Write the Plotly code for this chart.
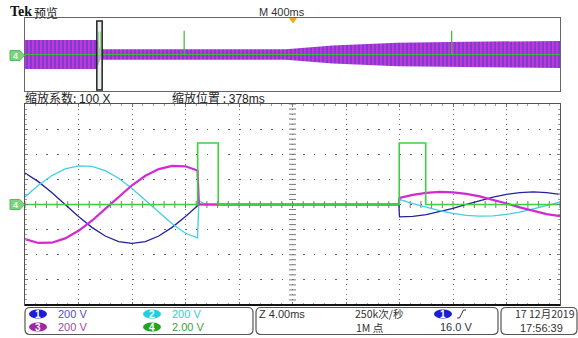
import plotly.graph_objects as go

W, H = 578, 338


def px(x):
    return x / W


def py(y):
    return 1 - y / H


# ---------------- zoomed window: 4 ms/div, CH1-3 200 V/div, CH4 2 V/div ----------------
t_ms = [0, 1, 2, 3, 4, 5, 6, 7, 8, 9, 10, 11, 12, 12.9, 13.0, 13.5, 27.95,
        28, 29, 30, 31, 32, 33, 34, 35, 36, 37, 38, 39, 40]
ch1_v = [251, 182, 96, 0, -96, -182, -251, -295, -310, -295, -251, -182, -96, -10, 0, 0, 0,
         -98, -95, -81, -58, -30, 1, 32, 59, 81, 95, 100, 95, 80]
ch2_v = [60, 154, 229, 283, 308, 304, 269, 209, 128, 34, -63, -154, -229, -265, 30, 0, 0,
         40, 7, -22, -49, -71, -86, -93, -90, -79, -60, -35, -7, 18]
ch3_v = [-275, -306, -304, -270, -209, -129, -35, 62, 153, 229, 282, 308, 304, 270, 0, 0, 0,
         52, 76, 92, 100, 97, 85, 65, 38, 8, -23, -52, -76, -92]
ch4_t_ms = [0, 12.91, 12.91, 14.45, 14.45, 27.98, 27.98, 29.96, 29.96, 40]
ch4_v = [0, 0, 4.9, 4.9, 0, 0, 4.9, 4.9, 0, 0]

# ---------------- full record preview: 400 ms/div ----------------
ov_t_s = [0, 0.54, 0.56, 1.95, 2.30, 2.65, 2.78, 3.30, 4.00]
ov_amp_v = [320, 320, 115, 115, 195, 240, 260, 280, 297]
ov4_t_s = [0, 0.550, 0.550, 0.550, 0.565, 0.565, 0.565, 1.19, 1.19, 1.19, 3.19, 3.19, 3.19, 4.0]
ov4_v = [0, 0, 5.0, 0, 0, 5.0, 0, 0, 5.2, 0, 0, 5.2, 0, 0]
zoom_center_s = 0.557
zoom_factor = 100
record_s = 4.0

C1, C2, C3, C4 = "#22229e", "#3fd0e2", "#d22ad2", "#3fd03f"

fig = go.Figure()

# preview band (min/max envelope of CH1-3)
env_x = ov_t_s + ov_t_s[::-1]
env_y = ov_amp_v + [-a for a in ov_amp_v[::-1]]
fig.add_trace(go.Scatter(
    x=env_x, y=env_y, xaxis="x2", yaxis="y2", mode="lines", fill="toself",
    line=dict(width=0, color=C3), fillcolor="#c636d6",
    fillpattern=dict(shape="|", fgcolor="#3a3ae0", bgcolor="#c83ad0", size=4, solidity=0.55),
    hoverinfo="skip"))
fig.add_trace(go.Scatter(
    x=ov4_t_s, y=ov4_v, xaxis="x2", yaxis="y4", mode="lines",
    line=dict(width=1.2, color="#3cb83c"), hoverinfo="skip"))

# centre-line ruler ticks of the graticule
ruler_y = [-800 + 40 * i for i in range(41)]
ruler_x = [0.8 * i for i in range(51)]
fig.add_trace(go.Scatter(
    x=[20] * len(ruler_y), y=ruler_y, mode="markers",
    marker=dict(symbol="line-ew", size=5, line=dict(width=1, color="#7a7a7a")), hoverinfo="skip"))
fig.add_trace(go.Scatter(
    x=ruler_x, y=[0] * len(ruler_x), mode="markers",
    marker=dict(symbol="line-ns", size=5, line=dict(width=1, color="#7a7a7a")), hoverinfo="skip"))

# channel traces
fig.add_trace(go.Scatter(x=t_ms, y=ch1_v, mode="lines", line=dict(width=1.3, color=C1), hoverinfo="skip"))
fig.add_trace(go.Scatter(x=t_ms, y=ch2_v, mode="lines", line=dict(width=1.3, color=C2), hoverinfo="skip"))
fig.add_trace(go.Scatter(x=t_ms, y=ch3_v, mode="lines", line=dict(width=2.2, color=C3), hoverinfo="skip"))
fig.add_trace(go.Scatter(x=ch4_t_ms, y=ch4_v, yaxis="y3", mode="lines",
                         line=dict(width=1.6, color=C4), hoverinfo="skip"))

main_x = [px(25), px(560)]
main_y = [py(305), py(104)]
ov_y = [py(91), py(18)]

fig.update_layout(
    width=W, height=H, margin=dict(l=0, r=0, t=0, b=0),
    paper_bgcolor="white", plot_bgcolor="white", showlegend=False,
    xaxis=dict(domain=main_x, range=[0, 40], dtick=4, tick0=0, showticklabels=False,
               showgrid=True, gridcolor="#6e6e6e", griddash="1px,4px", gridwidth=1,
               zeroline=False, showline=True, linecolor="#555", linewidth=1, mirror="ticks",
               ticks="inside", ticklen=3, tickcolor="#777",
               minor=dict(dtick=0.8, ticks="inside", ticklen=2, tickcolor="#999"),
               fixedrange=True),
    yaxis=dict(domain=main_y, range=[-800, 800], dtick=200, tick0=0, showticklabels=False,
               showgrid=True, gridcolor="#5e5e5e", griddash="1.5px,9.2px", gridwidth=1,
               zeroline=False, showline=True, linecolor="#555", linewidth=1, mirror="ticks",
               ticks="inside", ticklen=3, tickcolor="#777",
               minor=dict(dtick=40, ticks="inside", ticklen=2, tickcolor="#999"),
               fixedrange=True),
    yaxis3=dict(overlaying="y", range=[-8, 8], visible=False, fixedrange=True),
    xaxis2=dict(domain=main_x, anchor="y2", range=[0, record_s], showticklabels=False,
                showgrid=False, zeroline=False, showline=True, linecolor="#666",
                mirror=True, ticks="", fixedrange=True),
    yaxis2=dict(domain=ov_y, anchor="x2", range=[-800, 800], showticklabels=False,
                showgrid=False, zeroline=False, showline=True, linecolor="#666",
                mirror=True, ticks="", fixedrange=True),
    yaxis4=dict(overlaying="y2", anchor="x2", range=[-8, 8], visible=False, fixedrange=True),
)

shapes = []

# zoom window marker on the preview
half = record_s / zoom_factor / 2
shapes.append(dict(type="rect", xref="x2", yref="paper",
                   x0=zoom_center_s - half, x1=zoom_center_s + half, y0=py(90), y1=py(21),
                   line=dict(color="#222", width=1.5), fillcolor="rgba(215,232,215,0.6)"))

# thick lower edge of the graticule
shapes.append(dict(type="line", xref="paper", yref="paper",
                   x0=px(25), x1=px(560), y0=py(305), y1=py(305),
                   line=dict(color="#111", width=2)))

# trigger position marker
shapes.append(dict(type="path", xref="paper", yref="paper",
                   path=f"M{px(289)},{py(18)} L{px(297)},{py(18)} L{px(293)},{py(23.5)} Z",
                   fillcolor="#f3a428", line=dict(width=0)))


def ch_tag(yc):
    x0, x1, xt = 10, 20, 24.5
    return (f"M{px(x0)},{py(yc - 5)} L{px(x1)},{py(yc - 5)} L{px(xt)},{py(yc)} "
            f"L{px(x1)},{py(yc + 5)} L{px(x0)},{py(yc + 5)} Z")


for yc in (204.5, 55.5):
    shapes.append(dict(type="path", xref="paper", yref="paper", path=ch_tag(yc),
                       fillcolor="#7fd27f", line=dict(color="#5cb85c", width=1)))


def rbox(x0, y0, x1, y1, r=5):
    return (f"M{px(x0 + r)},{py(y0)} L{px(x1 - r)},{py(y0)} Q{px(x1)},{py(y0)} {px(x1)},{py(y0 + r)} "
            f"L{px(x1)},{py(y1 - r)} Q{px(x1)},{py(y1)} {px(x1 - r)},{py(y1)} "
            f"L{px(x0 + r)},{py(y1)} Q{px(x0)},{py(y1)} {px(x0)},{py(y1 - r)} "
            f"L{px(x0)},{py(y0 + r)} Q{px(x0)},{py(y0)} {px(x0 + r)},{py(y0)} Z")


for bx0, bx1 in ((25, 253), (256, 498), (501, 577)):
    shapes.append(dict(type="path", xref="paper", yref="paper", path=rbox(bx0, 307.5, bx1, 334.5),
                       line=dict(color="#555", width=1.2), fillcolor="white"))

# channel badges in the status bar
badges = [(38, 314, "1", "#1c1cd2"), (38, 327, "3", "#a425a4"),
          (152, 314, "2", "#1fcfdf"), (152, 327, "4", "#22a322"),
          (443, 314, "1", "#1c1cd2")]
for bx, by, _, col in badges:
    shapes.append(dict(type="circle", xref="paper", yref="paper",
                       x0=px(bx - 9), x1=px(bx + 9), y0=py(by + 4.5), y1=py(by - 4.5),
                       fillcolor=col, line=dict(width=0)))

# rising-edge trigger symbol
shapes.append(dict(type="path", xref="paper", yref="paper",
                   path=f"M{px(457)},{py(318)} L{px(459.5)},{py(318)} L{px(463.5)},{py(310)} L{px(466)},{py(310)}",
                   line=dict(color="#333", width=1)))

fig.update_layout(shapes=shapes)

LAT = "Liberation Sans, Noto Sans CJK SC, sans-serif"
CJK = "Noto Sans CJK SC, Liberation Sans, sans-serif"
ann = []


def txt(x, y, s, size=11, color="#222", family=LAT, anchor="left"):
    ann.append(dict(x=px(x), y=py(y), xref="paper", yref="paper", text=s, showarrow=False,
                    xanchor=anchor, yanchor="middle", borderpad=0,
                    font=dict(size=size, color=color, family=family)))


txt(9, 12, "<b>Tek</b>", 14, "#111", "Liberation Serif, serif")
txt(33, 12.5, "预览", 12, "#222", CJK)
txt(258, 12, "M 400ms", 11, "#333")
txt(24, 97.5, "缩放系数: <span style='font-family:Liberation Sans'>100 X</span>", 12, "#222", CJK)
txt(171, 97.5, "缩放位置 : <span style='font-family:Liberation Sans'>378ms</span>", 12, "#222", CJK)

for bx, by, d, _ in badges:
    txt(bx, by + 0.5, f"<b>{d}</b>", 10, "white", LAT, "center")
for yc in (204.5, 55.5):
    txt(15.5, yc + 0.5, "<b>4</b>", 9, "#e9f7e9", LAT, "center")

txt(57, 314, "200 V", 11, "#5050c8")
txt(57, 327, "200 V", 11, "#a24aa2")
txt(171, 314, "200 V", 11, "#38c8d8")
txt(171, 327, "2.00 V", 11, "#3aa23a")
txt(258, 314, "Z 4.00ms", 11, "#333")
txt(354, 313, "250k次/秒", 10.5, "#333", CJK)
txt(355, 327.5, "1M 点", 10.5, "#333", CJK)
txt(439, 327, "16.0 V", 11, "#333")
txt(514, 313, "17 12月2019", 10.5, "#333", CJK)
txt(519, 327.5, "17:56:39", 11, "#333")

fig.update_layout(annotations=ann)

fig.write_html("out.html")
